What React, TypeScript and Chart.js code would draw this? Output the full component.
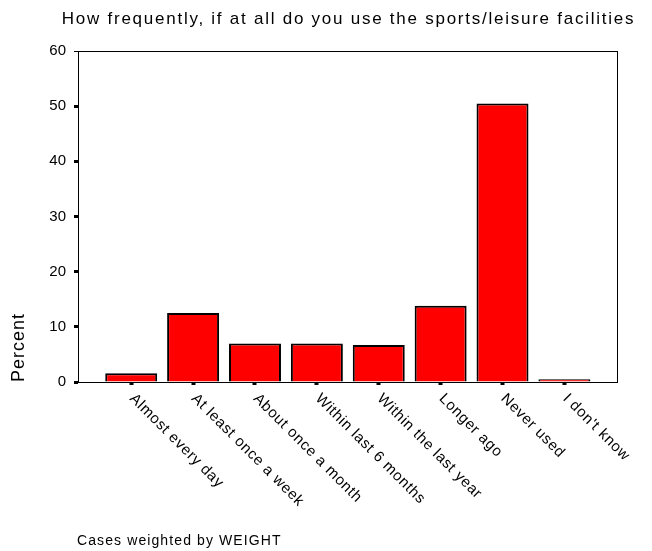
import React, { useEffect, useRef } from "react";
import { Chart, registerables } from "chart.js";

Chart.register(...registerables);

const categories: string[] = [
  "Almost every day",
  "At least once a week",
  "About once a month",
  "Within last 6 months",
  "Within the last year",
  "Longer ago",
  "Never used",
  "I don't know",
];
const percentValues: number[] = [1.6, 12.5, 7.0, 7.0, 6.7, 13.8, 50.5, 0.5];
const yTickValues: number[] = [0, 10, 20, 30, 40, 50, 60];
const titleText = "How frequently, if at all do you use the sports/leisure facilities";
const yAxisTitle = "Percent";
const footerText = "Cases weighted by WEIGHT";

const FONT = '"Liberation Sans", Arial, sans-serif';

export default function App() {
  const ref = useRef<HTMLCanvasElement | null>(null);

  useEffect(() => {
    if (!ref.current) return;
    const decor = {
      id: "decor",
      afterDraw(chart: any) {
        const ctx = chart.ctx;
        const a = chart.chartArea;
        const xs = chart.scales.x;
        ctx.save();
        // frame
        ctx.strokeStyle = "#000";
        ctx.lineWidth = 1;
        ctx.strokeRect(Math.round(a.left) + 0.5, Math.round(a.top) + 0.5, Math.round(a.right - a.left), Math.round(a.bottom - a.top));
        ctx.fillStyle = "#000";
        // title
        ctx.font = `17px ${FONT}`;
        (ctx as any).letterSpacing = "1.75px";
        ctx.textAlign = "center";
        ctx.textBaseline = "middle";
        ctx.fillText(titleText, (a.left + a.right) / 2 + 1, 19);
        // rotated category labels
        ctx.font = `15px ${FONT}`;
        (ctx as any).letterSpacing = "0.7px";
        categories.forEach((lab, i) => {
          const px = xs.getPixelForValue(i);
          ctx.save();
          ctx.translate(px + 6, a.bottom + 9);
          ctx.rotate(Math.PI / 4);
          ctx.textAlign = "left";
          ctx.textBaseline = "top";
          ctx.fillText(lab, 0, 0);
          ctx.restore();
        });
        // y axis title
        ctx.save();
        ctx.font = `18px ${FONT}`;
        (ctx as any).letterSpacing = "1px";
        ctx.translate(19, a.bottom);
        ctx.rotate(-Math.PI / 2);
        ctx.textAlign = "left";
        ctx.textBaseline = "middle";
        ctx.fillText(yAxisTitle, 0, 0);
        ctx.restore();
        // footer
        ctx.font = `14px ${FONT}`;
        (ctx as any).letterSpacing = "1.1px";
        ctx.textAlign = "left";
        ctx.textBaseline = "middle";
        ctx.fillText(footerText, 77, 541);
        (ctx as any).letterSpacing = "0px";
        ctx.restore();
      },
    };

    const chart = new Chart(ref.current, {
      type: "bar",
      data: {
        datasets: [
          {
            data: percentValues.map((v, i) => ({ x: i, y: v })),
            backgroundColor: "#ff0000",
            borderColor: "#000000",
            borderWidth: 2,
            barPercentage: 0.84,
            categoryPercentage: 1,
          },
        ],
      },
      options: {
        animation: false,
        responsive: false,
        devicePixelRatio: 1,
        layout: { padding: { left: 0, top: 51, right: 35, bottom: 0 } },
        plugins: { legend: { display: false }, tooltip: { enabled: false }, title: { display: false } },
        scales: {
          x: {
            type: "linear",
            min: -0.86,
            max: 7.85,
            offset: false,
            afterBuildTicks: (scale: any) => {
              scale.ticks = categories.map((_, i) => ({ value: i }));
            },
            afterFit: (scale: any) => {
              scale.height = 169;
            },
            ticks: { display: false },
            grid: {
              offset: false,
              drawOnChartArea: false,
              drawTicks: true,
              tickLength: 3,
              tickWidth: 4,
              tickColor: "#000",
            },
            border: { display: true, color: "#000", width: 1 },
          },
          y: {
            min: 0,
            max: 60,
            afterBuildTicks: (scale: any) => {
              scale.ticks = yTickValues.map((v) => ({ value: v }));
            },
            afterFit: (scale: any) => {
              scale.width = 78;
            },
            ticks: {
              color: "#000",
              font: { family: FONT, size: 15 },
              padding: 8,
            },
            grid: {
              drawOnChartArea: false,
              drawTicks: true,
              tickLength: 4,
              tickWidth: (c: any) => (c.tick && c.tick.value === 60 ? 1 : 3),
              tickColor: "#000",
            },
            border: { display: true, color: "#000", width: 1 },
          },
        },
      },
      plugins: [decor],
    } as any);
    return () => chart.destroy();
  }, []);

  return (
    <div style={{ position: "absolute", left: 0, top: 0, width: 652, height: 551, background: "#fff" }}>
      <canvas ref={ref} width={652} height={551} style={{ display: "block" }} />
    </div>
  );
}
